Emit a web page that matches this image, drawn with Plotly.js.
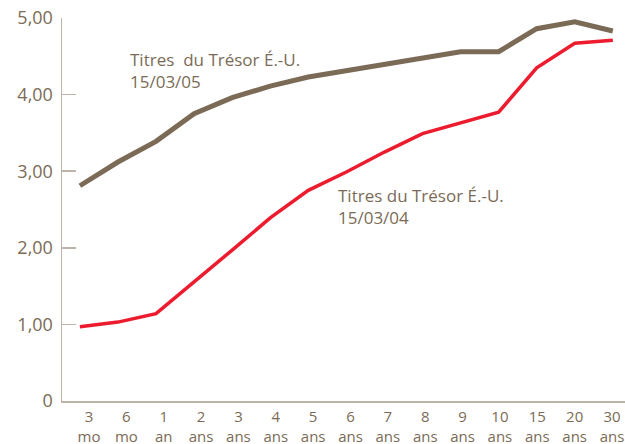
<!DOCTYPE html>
<html>
<head>
<meta charset="utf-8">
<script src="https://cdn.plot.ly/plotly-3.0.1.min.js"></script>
<style>html,body{margin:0;padding:0;background:#fff;}#chart{width:625px;height:444px;}</style>
</head>
<body>
<div id="chart"></div>
<script>
const categories = ["3<br>mo","6<br>mo","1<br>an","2<br>ans","3<br>ans","4<br>ans","5<br>ans","6<br>ans","7<br>ans","8<br>ans","9<br>ans","10<br>ans","15<br>ans","20<br>ans","30<br>ans"];
const rates2005 = [2.81,3.12,3.39,3.75,3.96,4.11,4.23,4.31,4.40,4.48,4.56,4.56,4.86,4.95,4.83];
const rates2004 = [0.97,1.03,1.14,1.55,1.97,2.39,2.75,2.99,3.25,3.49,3.63,3.77,4.35,4.67,4.71];
const yTickVals = [0,1,2,3,4,5];
const yTickText = ["0","1,00","2,00","3,00","4,00","5,00"];
const label2005 = "Titres&nbsp;&nbsp;du Trésor É.-U.<br>15/03/05";
const label2004 = "Titres du Trésor É.-U.<br>15/03/04";

const idx = categories.map((c,i)=>i);
const brown = "#7b6b56";
const red = "#ec1c2e";
const axisCol = "#bdb3a6";
const textCol = "#7b6b56";

const traces = [
  {x: idx, y: rates2004, type:"scatter", mode:"lines", line:{color:red, width:3.5}, hoverinfo:"skip"},
  {x: idx, y: rates2005, type:"scatter", mode:"lines", line:{color:brown, width:5}, hoverinfo:"skip"},
  {x: idx, y: idx.map(()=>null), xaxis:"x2", type:"scatter", mode:"lines", hoverinfo:"skip", showlegend:false}
];
const layout = {
  width:625, height:444,
  margin:{l:62, r:0, t:18, b:43},
  paper_bgcolor:"#fff", plot_bgcolor:"#fff",
  showlegend:false,
  font:{family:"Open Sans, sans-serif", color:textCol},
  xaxis:{
    range:[-0.47,14.32], showticklabels:false,
    showgrid:false, zeroline:false, showline:true, linecolor:axisCol, linewidth:1.5,
    ticks:"", fixedrange:true
  },
  xaxis2:{
    overlaying:"x", side:"bottom", anchor:"y",
    range:[-0.723,14.348], tickvals:idx, ticktext:categories,
    showgrid:false, zeroline:false, showline:false, ticks:"", ticklabelstandoff:5,
    tickfont:{size:15, color:textCol}, fixedrange:true
  },
  yaxis:{
    range:[0,5], tickvals:yTickVals, ticktext:yTickText,
    showgrid:false, zeroline:false, showline:true, linecolor:axisCol, linewidth:1.5,
    ticks:"inside", ticklen:14, tickwidth:1.5, tickcolor:axisCol, ticklabelstandoff:4,
    tickfont:{size:18, color:textCol}, fixedrange:true
  },
  annotations:[
    {xref:"paper", yref:"paper", x:(128-62)/563, y:(401-46)/383, xanchor:"left", yanchor:"top",
     text:label2005, showarrow:false, align:"left", font:{size:17, color:textCol}},
    {xref:"paper", yref:"paper", x:(336-62)/563, y:(401-182)/383, xanchor:"left", yanchor:"top",
     text:label2004, showarrow:false, align:"left", font:{size:17, color:textCol}}
  ]
};
Plotly.newPlot("chart", traces, layout, {displayModeBar:false, staticPlot:true});
</script>
</body>
</html>
